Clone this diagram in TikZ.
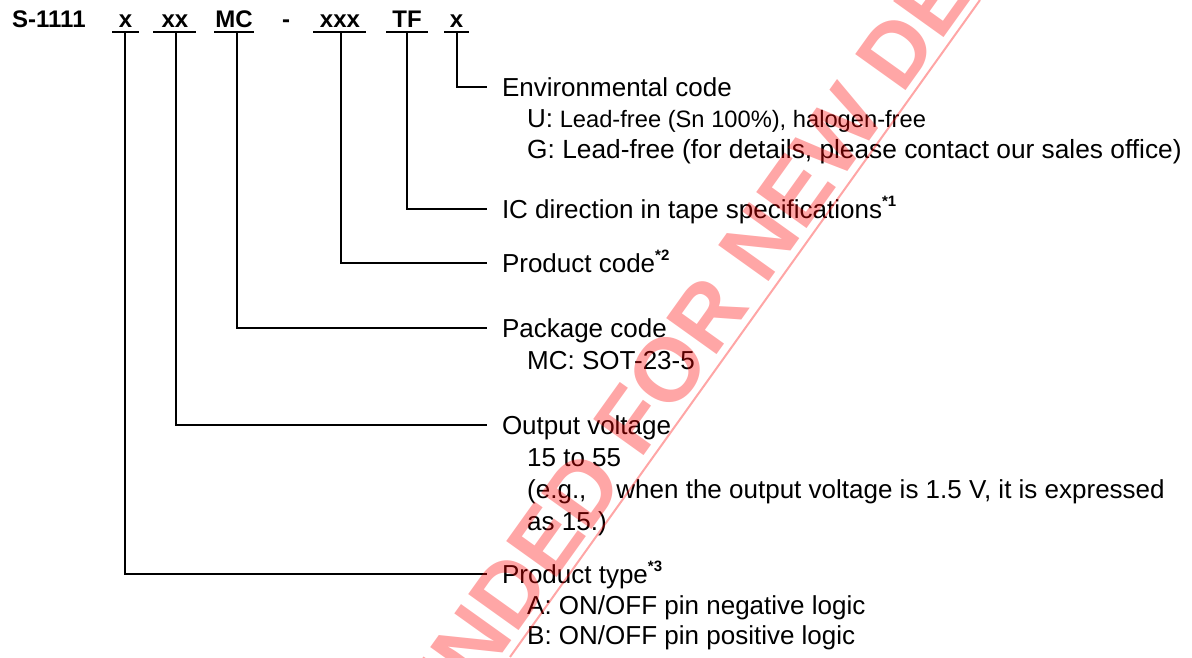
\documentclass[tikz,border=0pt]{standalone}
\usepackage{fontspec}
\setmainfont{Liberation Sans}
\newcommand{\supmark}[1]{\raisebox{12pt}{\fontsize{15}{15}\selectfont\bfseries *#1}}
\begin{document}
\begin{tikzpicture}[x=1pt,y=-1pt,
  conn/.style={line width=1.8pt},
  uline/.style={line width=1.6pt},
  code/.style={font=\fontsize{24}{24}\selectfont\bfseries, inner sep=0pt, anchor=base},
  title/.style={font=\fontsize{26}{31}\selectfont, inner xsep=0pt, inner ysep=0pt, outer xsep=15pt, outer ysep=0pt, text height=18.6pt, text depth=0pt, anchor=base west},
  sub/.style={font=\fontsize{26}{31}\selectfont, inner sep=0pt, anchor=base west},
  wmtext/.style={font=\fontsize{90}{90}\selectfont\bfseries, text=red, text opacity=0.35, inner sep=0pt, text height=65pt, text depth=0pt},
  wmline/.style={draw=red, draw opacity=0.35, line width=2pt}
]
\useasboundingbox (0,0) rectangle (1192,657);

% header
\node[code, anchor=base west] (hS) at (12,27) {S-1111};
\node[code] (h1) at (125.5,27) {x};
\node[code] (h2) at (175,27) {xx};
\node[code] (h3) at (234,27) {MC};
\node[code] (hd) at (286,27) {-};
\node[code] (h4) at (340,27) {xxx};
\node[code] (h5) at (407,27) {TF};
\node[code] (h6) at (456.5,27) {x};

\draw[uline] (112,32) -- (139,32);
\draw[uline] (153,32) -- (196,32);
\draw[uline] (214,32) -- (254,32);
\draw[uline] (313,32) -- (366,32);
\draw[uline] (386,32) -- (428,32);
\draw[uline] (444,32) -- (469,32);

\coordinate (s1) at (125,32);
\coordinate (s2) at (176,32);
\coordinate (s3) at (237,32);
\coordinate (s4) at (341,32);
\coordinate (s5) at (407,32);
\coordinate (s6) at (457,32);

% labels
\node[title] (tEnv) at (487,96) {Environmental code};
\node[sub] (tU) at (527,127) {U:\fontsize{23.7}{28}\selectfont{} Lead-free (Sn 100\%), halogen-free};
\node[sub, font=\fontsize{26.3}{31}\selectfont] (tG) at (527,158) {G: Lead-free (for details, please contact our sales office)};

\node[title] (tIC) at (487,218) {IC direction in tape specifications\supmark{1}};
\node[title] (tPC) at (487,272) {Product code\supmark{2}};

\node[title] (tPk) at (487,337) {Package code};
\node[sub] (tMC) at (527,369) {MC: SOT-23-5};

\node[title] (tOV) at (487,434) {Output voltage};
\node[sub] (tR) at (527,466) {15 to 55};
\node[sub] (tEg) at (527,498) {(e.g.,\hspace{30pt}when the output voltage is 1.5 V, it is expressed};
\node[sub] (tAs) at (527,530) {as 15.)};

\node[title] (tPT) at (487,583) {Product type\supmark{3}};
\node[sub] (tA) at (527,614) {A: ON/OFF pin negative logic};
\node[sub] (tB) at (527,644) {B: ON/OFF pin positive logic};

% connectors
\draw[conn] (s6) |- (tEnv.west);
\draw[conn] (s5) |- (tIC.west);
\draw[conn] (s4) |- (tPC.west);
\draw[conn] (s3) |- (tPk.west);
\draw[conn] (s2) |- (tOV.west);
\draw[conn] (s1) |- (tPT.west);

% watermark
\node[wmtext, rotate=54.4] (wm) at (565,511) {NOT RECOMMENDED FOR NEW DESIGN};
\coordinate (wa) at (510,657);
\coordinate (wb) at (980,0);
\draw[wmline] (wa) -- (wb);
\end{tikzpicture}
\end{document}
